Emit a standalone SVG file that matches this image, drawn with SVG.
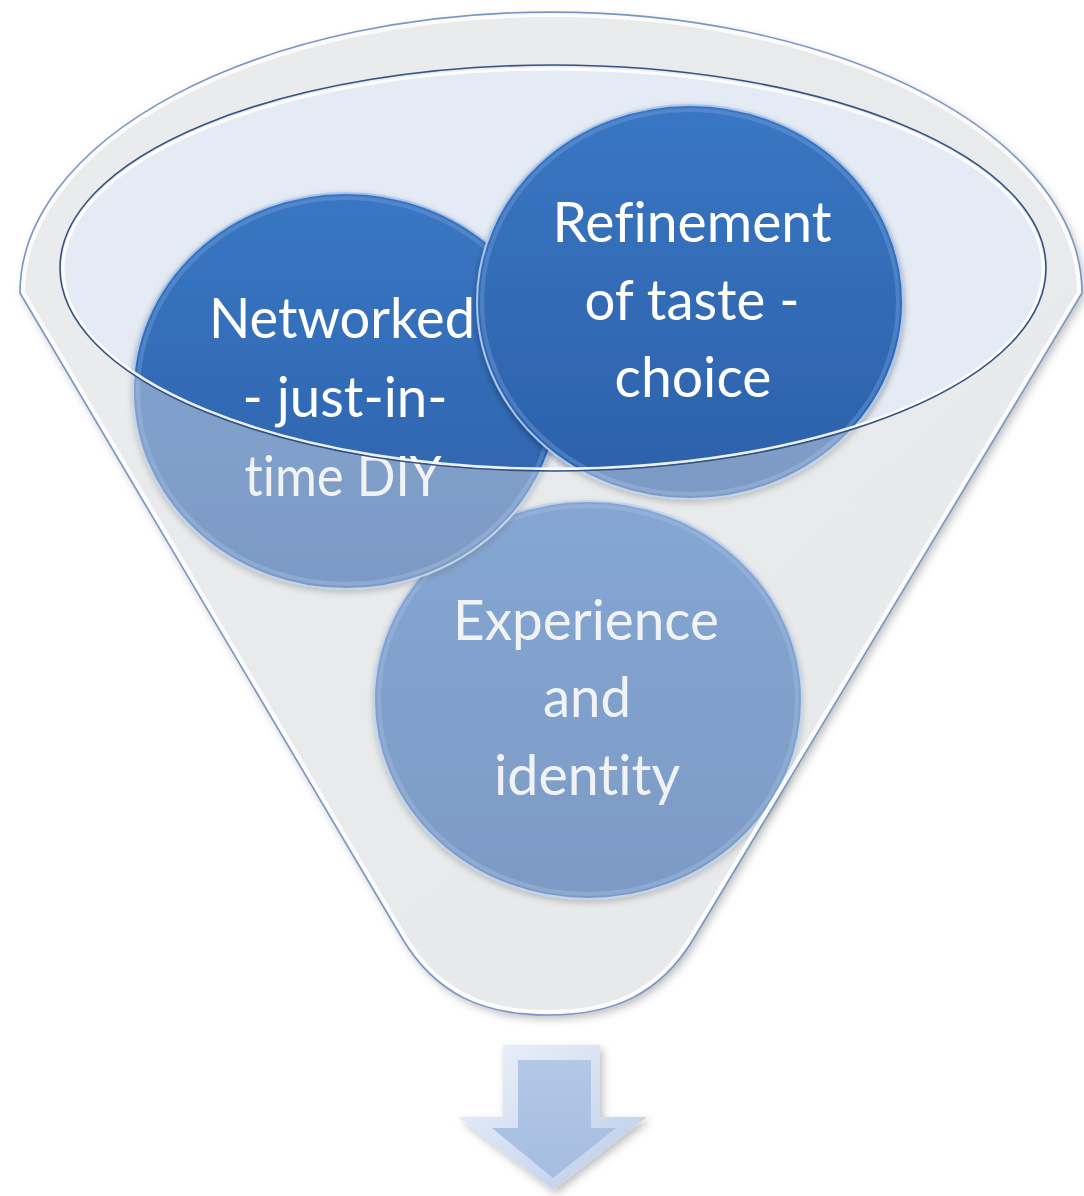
<svg xmlns="http://www.w3.org/2000/svg" width="1084" height="1196" viewBox="0 0 1084 1196">
  <defs>
    <style>
      .lbl { font-family: Lato, "Open Sans", "Noto Sans", sans-serif; font-size: 56px; fill: #ffffff; text-anchor: middle; font-variant-ligatures: none; font-feature-settings: "liga" 0, "clig" 0; }
      .ball { fill: url(#ballGrad); stroke: #a9c7ee; stroke-width: 2; }
      .ballRing { fill: none; stroke: #6e9bd6; stroke-width: 4; stroke-opacity: 0.45; }
    </style>
    <linearGradient id="ballGrad" x1="0" y1="0" x2="0" y2="1">
      <stop offset="0" stop-color="#3a76c3"/>
      <stop offset="1" stop-color="#2b60a9"/>
    </linearGradient>
    <linearGradient id="funnelGrad" x1="0" y1="0" x2="1" y2="1">
      <stop offset="0" stop-color="#f3f3f3"/>
      <stop offset="1" stop-color="#eeeeee"/>
    </linearGradient>
    <linearGradient id="arrowGrad" x1="0" y1="0" x2="1" y2="1">
      <stop offset="0" stop-color="#eef3fb"/>
      <stop offset="1" stop-color="#b9cbe8"/>
    </linearGradient>
    <linearGradient id="arrowFace" x1="0" y1="0" x2="0" y2="1">
      <stop offset="0" stop-color="#b3c7e6"/>
      <stop offset="1" stop-color="#a6bde1"/>
    </linearGradient>
    <filter id="shadow" x="-10%" y="-10%" width="120%" height="120%">
      <feDropShadow dx="3" dy="4" stdDeviation="4" flood-color="#000" flood-opacity="0.25"/>
    </filter>
    <filter id="ballShadow" x="-10%" y="-10%" width="120%" height="125%">
      <feDropShadow dx="0" dy="3" stdDeviation="3" flood-color="#000" flood-opacity="0.35"/>
    </filter>
    <clipPath id="funnelClip">
      <path d="M 20 293 A 531 281 0 0 1 1082 293 L 694 938 C 660 995 612 1015 548 1015 C 484 1015 436 995 402 938 Z"/>
    </clipPath>
  </defs>

  <rect width="1084" height="1196" fill="#ffffff"/>

  <g id="funnel">
    <path d="M 20 293 A 531 281 0 0 1 1082 293 L 694 938 C 660 995 612 1015 548 1015 C 484 1015 436 995 402 938 Z" fill="url(#funnelGrad)" filter="url(#shadow)"/>
    <ellipse cx="553" cy="268" rx="493" ry="203" fill="#e5ebf4"/>
  </g>

  <g id="node-experience" filter="url(#ballShadow)">
    <ellipse class="ball" cx="588" cy="700" rx="214" ry="199"/>
    <ellipse class="ballRing" cx="588" cy="700" rx="209" ry="194"/>
    <text class="lbl" x="586" y="640" textLength="266" lengthAdjust="spacingAndGlyphs">Experience</text>
    <text class="lbl" x="587" y="717" textLength="88" lengthAdjust="spacingAndGlyphs">and</text>
    <text class="lbl" x="587" y="795" textLength="186" lengthAdjust="spacingAndGlyphs">identity</text>
  </g>

  <g id="node-networked" filter="url(#ballShadow)">
    <ellipse class="ball" cx="346" cy="391" rx="213" ry="198"/>
    <ellipse class="ballRing" cx="346" cy="391" rx="208" ry="193"/>
    <text class="lbl" x="342" y="338" textLength="266" lengthAdjust="spacingAndGlyphs">Networked</text>
    <text class="lbl" x="345" y="417" textLength="205" lengthAdjust="spacingAndGlyphs">- just-in-</text>
    <text class="lbl" x="343" y="496" textLength="197" lengthAdjust="spacingAndGlyphs">time DIY</text>
  </g>

  <g id="node-refinement" filter="url(#ballShadow)">
    <ellipse class="ball" cx="690" cy="302" rx="213" ry="197"/>
    <ellipse class="ballRing" cx="690" cy="302" rx="208" ry="192"/>
    <text class="lbl" x="692" y="242" textLength="279" lengthAdjust="spacingAndGlyphs">Refinement</text>
    <text class="lbl" x="692" y="320" textLength="215" lengthAdjust="spacingAndGlyphs">of taste -</text>
    <text class="lbl" x="693" y="397" textLength="157" lengthAdjust="spacingAndGlyphs">choice</text>
  </g>

  <g id="funnel-front">
    <path d="M 20 293 A 531 281 0 0 1 1082 293 L 694 938 C 660 995 612 1015 548 1015 C 484 1015 436 995 402 938 Z M 60 268 A 493 203 0 1 0 1046 268 A 493 203 0 1 0 60 268 Z" fill="#dfe2e6" fill-opacity="0.45" fill-rule="evenodd"/>
    <ellipse cx="553" cy="269" rx="490" ry="200" fill="none" stroke="#ffffff" stroke-width="3" stroke-opacity="0.9"/>
    <ellipse cx="553" cy="268" rx="493" ry="203" fill="none" stroke="#34527f" stroke-width="1.6"/>
    <g clip-path="url(#funnelClip)">
      <path d="M 20 293 A 531 281 0 0 1 1082 293 L 694 938 C 660 995 612 1015 548 1015 C 484 1015 436 995 402 938 Z" fill="none" stroke="#ffffff" stroke-width="10" stroke-opacity="0.85"/>
    </g>
    <path d="M 20 293 A 531 281 0 0 1 1082 293 L 694 938 C 660 995 612 1015 548 1015 C 484 1015 436 995 402 938 Z" fill="none" stroke="#7896c4" stroke-width="1.6"/>
  </g>

  <g id="arrow" filter="url(#shadow)">
    <polygon points="503,1045 600,1045 600,1117 647,1117 553,1190 458,1117 503,1117" fill="url(#arrowGrad)"/>
    <polygon points="518,1060 591,1060 591,1128 616,1128 553,1178 492,1128 518,1128" fill="url(#arrowFace)"/>
  </g>
</svg>
